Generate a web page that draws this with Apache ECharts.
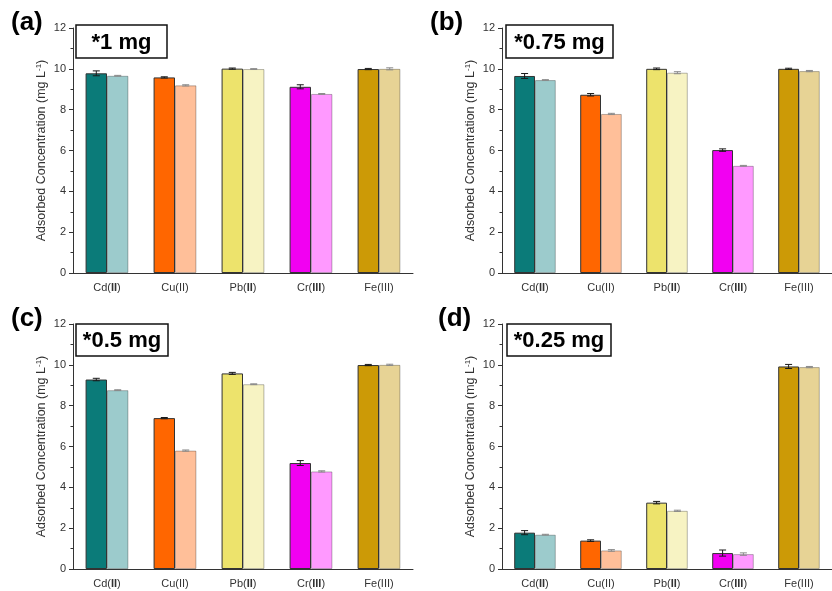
<!DOCTYPE html>
<html><head><meta charset="utf-8">
<script src="https://cdn.jsdelivr.net/npm/echarts@6/dist/echarts.min.js"></script>
<style>html,body{margin:0;padding:0;background:#fff}#c{width:832px;height:591px}</style>
</head><body><div id="c"></div>
<script>
// ---- data ----
const categories = ['Cd(II)', 'Cu(II)', 'Pb(II)', 'Cr(III)', 'Fe(III)'];
const panelLetters = ['(a)', '(b)', '(c)', '(d)'];
const doseLabels = ['*1 mg', '*0.75 mg', '*0.5 mg', '*0.25 mg'];
const yMin = 0, yMax = 12, yInterval = 2;

const aDark  = [9.78, 9.58, 10.01, 9.12, 9.99];
const aLight = [9.66, 9.19, 9.99, 8.77, 10.00];
const aDarkErr  = [0.12, 0.03, 0.03, 0.10, 0.03];
const aLightErr = [0.02, 0.03, 0.02, 0.02, 0.05];

const bDark  = [9.65, 8.73, 10.00, 6.02, 10.00];
const bLight = [9.45, 7.79, 9.81, 5.25, 9.89];
const bDarkErr  = [0.12, 0.06, 0.04, 0.06, 0.03];
const bLightErr = [0.02, 0.03, 0.05, 0.02, 0.03];

const cDark  = [9.28, 7.39, 9.58, 5.19, 9.99];
const cLight = [8.76, 5.80, 9.05, 4.78, 10.00];
const cDarkErr  = [0.06, 0.03, 0.05, 0.12, 0.03];
const cLightErr = [0.02, 0.03, 0.02, 0.03, 0.03];

const dDark  = [1.78, 1.39, 3.25, 0.78, 9.92];
const dLight = [1.68, 0.91, 2.85, 0.73, 9.89];
const dDarkErr  = [0.10, 0.04, 0.06, 0.15, 0.10];
const dLightErr = [0.02, 0.04, 0.03, 0.06, 0.03];

// ---- styles ----
const darkColors  = ['#0B7B79', '#FF6600', '#EDE36C', '#F200F2', '#CC9A06'];
const lightColors = ['#9CCBCC', '#FFBF99', '#F7F3C3', '#FF99FF', '#E7D395'];
const boldRoman = [true, false, true, true, false];
const gridPos = [
  {left: 73, top: 28}, {left: 502, top: 28},
  {left: 73, top: 324}, {left: 502, top: 324}
];
const gridW = 340, gridH = 245;
const catGap = 0.37;
const FONT = 'Arial, "Liberation Sans", sans-serif';

const panels = [
  [aDark, aLight, aDarkErr, aLightErr],
  [bDark, bLight, bDarkErr, bLightErr],
  [cDark, cLight, cDarkErr, cLightErr],
  [dDark, dLight, dDarkErr, dLightErr]
];

function errRender(params, api) {
  const x = api.value(0), y = api.value(1), e = api.value(2), side = api.value(3);
  const c = api.coord([x, y]);
  const catW = api.size([1, 0])[0];
  const bw = catW * (1 - catGap) / 2;
  const cx = c[0] + (side === 0 ? -bw / 2 : bw / 2);
  const top = api.coord([x, y + e])[1], bot = api.coord([x, y - e])[1];
  const cap = 3.5;
  const style = {stroke: side === 0 ? '#1a1a1a' : '#8a8a8a', lineWidth: 1};
  return {type: 'group', children: [
    {type: 'line', shape: {x1: cx, y1: top, x2: cx, y2: bot}, style: style},
    {type: 'line', shape: {x1: cx - cap, y1: top, x2: cx + cap, y2: top}, style: style},
    {type: 'line', shape: {x1: cx - cap, y1: bot, x2: cx + cap, y2: bot}, style: style}
  ]};
}

const grids = [], xAxes = [], yAxes = [], series = [], graphics = [];
panels.forEach(function (p, i) {
  grids.push({left: gridPos[i].left, top: gridPos[i].top, width: gridW, height: gridH});
  xAxes.push({
    type: 'category', gridIndex: i, data: categories,
    axisLine: {lineStyle: {color: '#333', width: 1}},
    axisTick: {alignWithLabel: true, interval: 0, length: 4, lineStyle: {color: '#333'}},
    axisLabel: {
      interval: 0, margin: 9, fontSize: 11, color: '#333', fontFamily: FONT,
      formatter: function (v, idx) {
        const m = v.match(/^(\w+)\((\w+)\)$/);
        return '{n|' + m[1] + '(}' + (boldRoman[idx] ? '{b|' : '{n|') + m[2] + '}{n|)}';
      },
      rich: {
        n: {fontSize: 11, color: '#333', fontFamily: FONT},
        b: {fontSize: 11, color: '#333', fontFamily: FONT, fontWeight: 'bold'}
      }
    }
  });
  yAxes.push({
    type: 'value', gridIndex: i, min: yMin, max: yMax, interval: yInterval,
    name: '{t|Adsorbed Concentration (mg L}{s|-1}{t|)}',
    nameLocation: 'middle', nameGap: 25,
    nameTextStyle: {
      rich: {
        t: {fontSize: 12.5, color: '#333', fontFamily: FONT},
        s: {fontSize: 8, color: '#333', fontFamily: FONT, verticalAlign: 'top', padding: [0, 0, 5, 0]}
      }
    },
    axisLine: {show: true, lineStyle: {color: '#333', width: 1}},
    axisTick: {show: true, length: 4, lineStyle: {color: '#333'}},
    minorTick: {show: true, splitNumber: 2, length: 2.5, lineStyle: {color: '#333'}},
    splitLine: {show: false},
    axisLabel: {fontSize: 11, color: '#333', fontFamily: FONT, margin: 7}
  });
  series.push({
    type: 'bar', xAxisIndex: i, yAxisIndex: i, barGap: '0%', barCategoryGap: (catGap * 100) + '%',
    data: p[0].map(function (v, k) {
      return {value: v, itemStyle: {color: darkColors[k], borderColor: '#333', borderWidth: 1}};
    })
  });
  series.push({
    type: 'bar', xAxisIndex: i, yAxisIndex: i, barGap: '0%', barCategoryGap: (catGap * 100) + '%',
    data: p[1].map(function (v, k) {
      return {value: v, itemStyle: {color: lightColors[k], borderColor: 'rgba(0,0,0,0.28)', borderWidth: 1}};
    })
  });
  const errData = [];
  p[0].forEach(function (v, k) { errData.push([k, v, p[2][k], 0]); });
  p[1].forEach(function (v, k) { errData.push([k, v, p[3][k], 1]); });
  series.push({
    type: 'custom', xAxisIndex: i, yAxisIndex: i, renderItem: errRender,
    data: errData, encode: {x: 0, y: 1}, z: 10, silent: true
  });
});

const letterPos = [[11, 10], [430, 10], [11, 306], [438, 306]];
const boxPos = [[76, 25, 91, 33], [506, 25, 107, 33], [76, 324, 92, 32], [507, 324, 104, 32]];
panelLetters.forEach(function (t, i) {
  graphics.push({
    type: 'text', left: letterPos[i][0], top: letterPos[i][1],
    style: {text: t, font: 'bold 26px ' + FONT, fill: '#000'}
  });
  const b = boxPos[i];
  graphics.push({
    type: 'rect', shape: {x: b[0], y: b[1], width: b[2], height: b[3]},
    style: {fill: '#fff', stroke: '#111', lineWidth: 1.5}, z: 20
  });
  graphics.push({
    type: 'text', x: b[0] + b[2] / 2, y: b[1] + b[3] / 2 + 1, z: 21,
    style: {text: doseLabels[i], font: 'bold 22px ' + FONT, fill: '#000', textAlign: 'center', textVerticalAlign: 'middle'}
  });
});

const chart = echarts.init(document.getElementById('c'), null, {renderer: 'canvas'});
chart.setOption({
  animation: false,
  backgroundColor: '#fff',
  grid: grids, xAxis: xAxes, yAxis: yAxes, series: series, graphic: graphics
});
</script>
</body></html>
